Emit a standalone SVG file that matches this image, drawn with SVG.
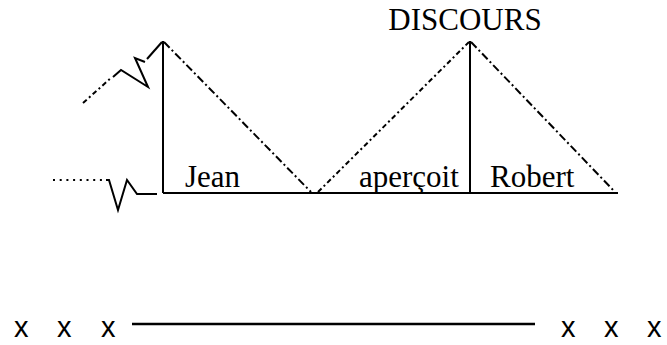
<svg xmlns="http://www.w3.org/2000/svg" width="667" height="345" viewBox="0 0 667 345">
<style>
.serif{font-family:"Liberation Serif","Times New Roman",serif;font-size:31px;fill:#000}
.sans{font-family:"Liberation Sans",Arial,sans-serif;font-size:29px;fill:#000}
.solid{stroke:#000;stroke-width:2;fill:none;stroke-linejoin:miter}
.dashdot{stroke:#000;stroke-width:2;fill:none;stroke-dasharray:8 3 2 3}
.shortdash{stroke:#000;stroke-width:2;fill:none;stroke-dasharray:5 3 2 3}
.dots{stroke:#000;stroke-width:2;fill:none;stroke-dasharray:2 4.7}
</style>
<rect width="667" height="345" fill="#fff"/>
<g id="connectors">
  <line class="solid" x1="163" y1="193" x2="618" y2="193"/>
  <line class="solid" x1="163" y1="193" x2="163" y2="41"/>
  <line class="solid" x1="470" y1="193" x2="470" y2="41"/>
  <line class="dashdot" x1="164" y1="42" x2="311" y2="192"/>
  <line class="shortdash" x1="318" y1="192" x2="469" y2="42"/>
  <line class="dashdot" x1="471" y1="42" x2="615" y2="192"/>
  <line class="shortdash" x1="83" y1="103" x2="112" y2="77"/>
  <polyline class="solid" points="113,77 121,70 148,87 135,58 145,62"/>
  <line class="solid" x1="147" y1="59" x2="162" y2="42"/>
  <line class="dots" x1="53" y1="180" x2="104" y2="180"/>
  <polyline class="solid" points="106,180 109,180 118,210 127,180 137,194 157,194"/>
  <line x1="132" y1="324" x2="535" y2="324" stroke="#000" stroke-width="2.5"/>
</g>
<g id="discours"><text class="serif" x="465" y="30" text-anchor="middle">DISCOURS</text></g>
<g id="jean"><text class="serif" x="185" y="187">Jean</text></g>
<g id="apercoit"><text class="serif" x="359" y="187">aperçoit</text></g>
<g id="robert"><text class="serif" x="490" y="187">Robert</text></g>
<g id="xxx-left"><text class="sans" x="14 36 57 79 101" y="337">x x x</text></g>
<g id="xxx-right"><text class="sans" x="561 583 604 626 647" y="337">x x x</text></g>
</svg>
